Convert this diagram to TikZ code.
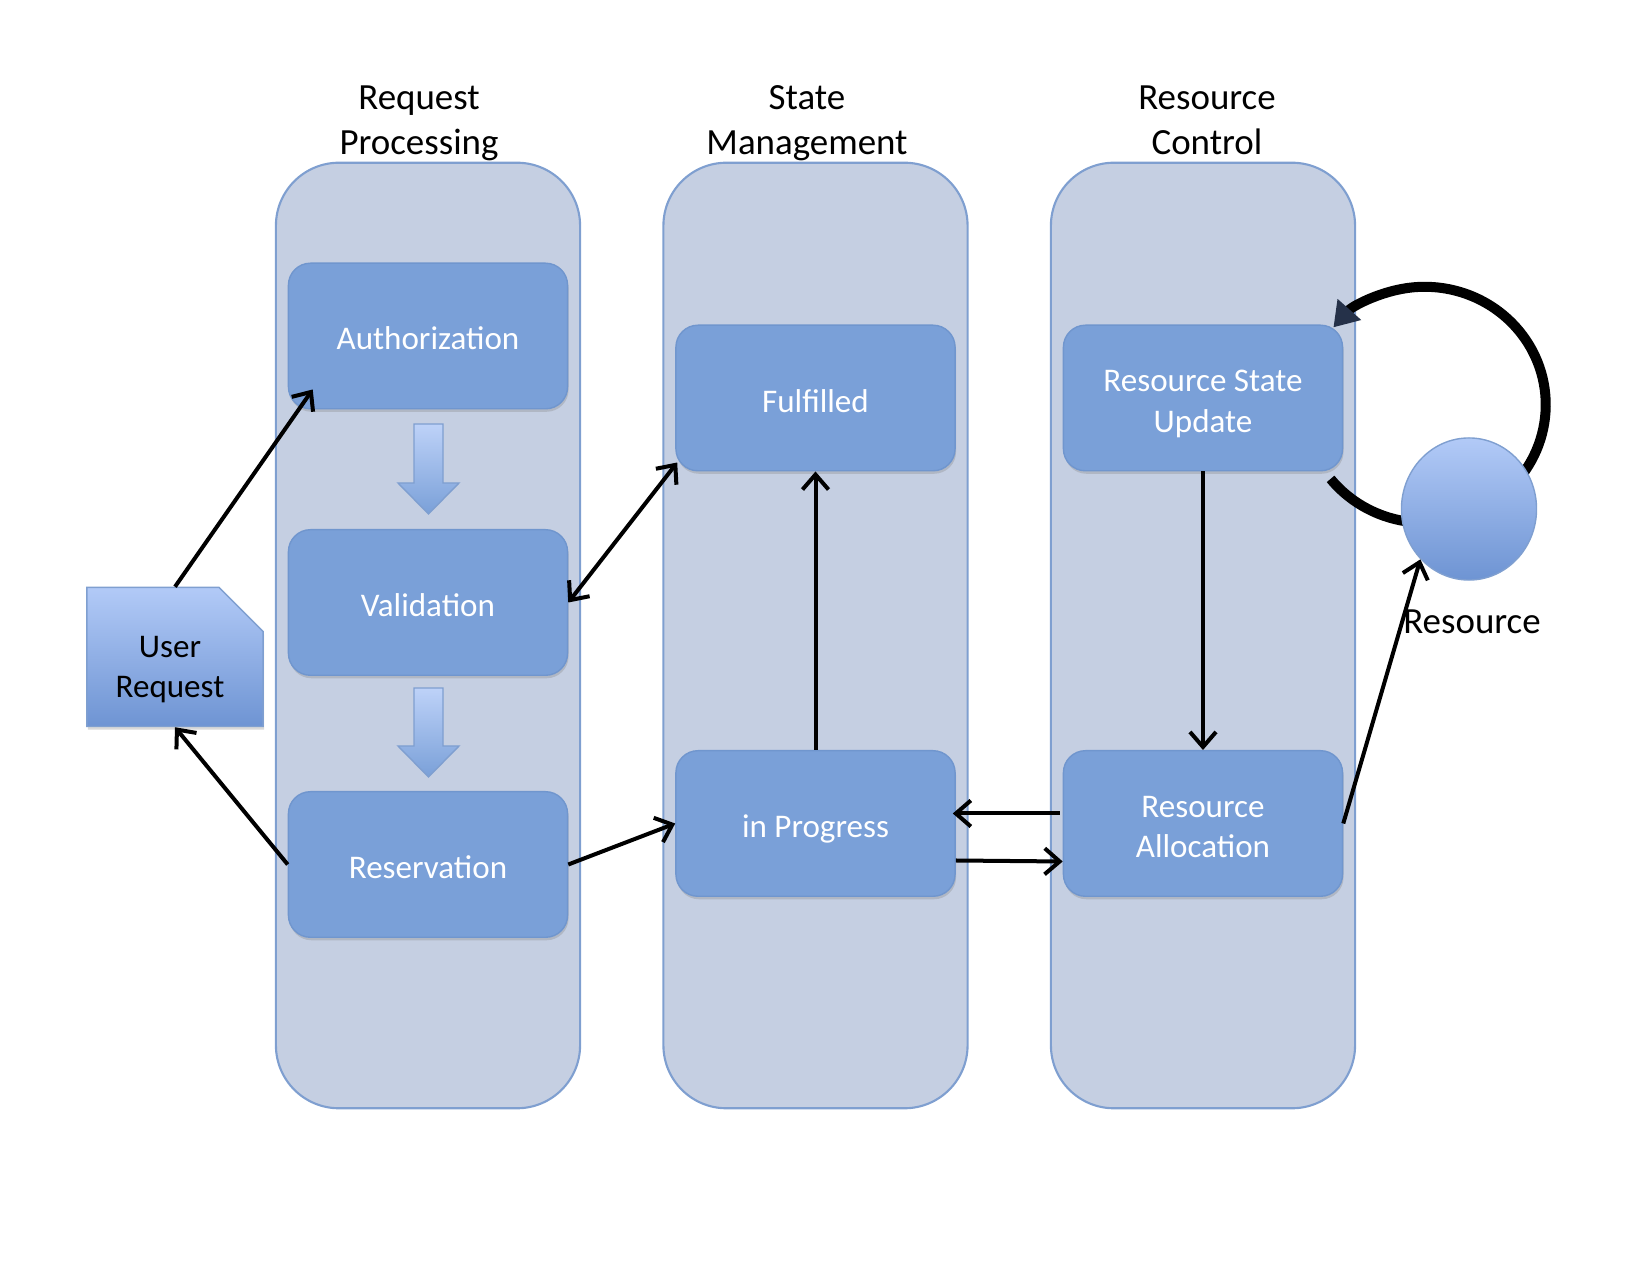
\documentclass[tikz,border=0pt]{standalone}
\usepackage{fontspec}
\setmainfont{Carlito}
\usetikzlibrary{calc}
\usetikzlibrary{arrows.meta}
\usetikzlibrary{shapes.geometric}
\usetikzlibrary{shapes.misc}
\usetikzlibrary{shadows}
\definecolor{lanefill}{RGB}{197,207,226}
\definecolor{laneline}{RGB}{127,159,208}
\definecolor{boxfill}{RGB}{122,160,216}
\definecolor{boxline}{RGB}{112,150,206}
\definecolor{lighttop}{RGB}{178,202,247}
\definecolor{darkbottom}{RGB}{110,148,211}
\definecolor{loopnavy}{RGB}{37,49,73}
\tikzset{
 lane/.style={draw=laneline, fill=lanefill, line width=0.6pt, rounded corners=0.63cm, minimum width=3.04cm, minimum height=9.45cm},
 lanetitle/.style={align=center, text depth=0pt, font=\fontsize{10.5}{12.8}\selectfont},
 stage/.style={draw=boxline, fill=boxfill, rounded corners=0.22cm, minimum width=2.79cm, minimum height=1.455cm, text=white, align=center, text height=0.30cm, text depth=0.02cm, font=\fontsize{9.4}{11.4}\selectfont, drop shadow={shadow xshift=0.01cm, shadow yshift=-0.03cm, opacity=0.3}},
 twoline/.style={text height=0.70cm},
 conn/.style={line width=0.04cm, >={Straight Barb[length=0.15cm, width=0.26cm]}, ->},
}

\begin{document}
\begin{tikzpicture}[x=0.01cm, y=0.01cm]
\useasboundingbox (0,0) rectangle (1650,1275);
% lanes
\node[lane] (lreq) at (428,639.5) {};
\node[lane] (lstate) at (815.5,639.5) {};
\node[lane] (lres) at (1203,639.5) {};
\node[lanetitle] (treq) at (419,1155) {Request\\Processing};
\node[lanetitle] (tstate) at (807,1155) {State\\Management};
\node[lanetitle] (tres) at (1207,1155) {Resource\\Control};

% stages
\node[stage] (auth) at (428,939) {Authorization};
\node[stage] (valid) at (428,672.5) {Validation};
\node[stage] (reserv) at (428,410.5) {Reservation};
\node[stage] (fulf) at (815.5,877) {Fulfilled};
\node[stage] (inprog) at (815.5,451.5) {in Progress};
\node[stage, twoline] (rsu) at (1203,877) {Resource State\\Update};
\node[stage, twoline] (ralloc) at (1203,451.5) {Resource\\Allocation};

\foreach \ytop/\ytip in {851/761, 587/498} {
 \draw[laneline, top color=lighttop!85!white, bottom color=boxfill] (414,\ytop) -- (443,\ytop) -- (443,\ytip+31) -- (459,\ytip+31) -- (428.5,\ytip) -- (398,\ytip+31) -- (414,\ytip+31) -- cycle;
}

\node[chamfered rectangle, chamfered rectangle corners=north east, chamfered rectangle xsep=0.22cm, chamfered rectangle ysep=0.22cm, draw=laneline, top color=lighttop, bottom color=darkbottom, minimum width=1.76cm, minimum height=1.38cm, inner sep=0pt, align=center, text height=0.88cm, text depth=0.07cm, font=\fontsize{9.4}{11.4}\selectfont, drop shadow={shadow xshift=0.01cm, shadow yshift=-0.03cm, opacity=0.3}] (ureq) at (175,618) {User\kern0.1cm\\Request\kern0.1cm};

% connectors
\draw[conn] (ureq.north) -- ($(auth.south west)+(25,20)$);
\draw[conn] (reserv.west) -- (ureq.south);
\draw[conn, <->] (valid.east) -- ($(fulf.south west)+(2,9)$);
\draw[conn] (reserv.east) -- (inprog.west);
\draw[conn] (inprog.north) -- (fulf.south);
\draw[conn] (rsu.south) -- (ralloc.north);
\draw[conn] ($(ralloc.west)+(-3,10)$) -- ($(inprog.east)+(-3,10)$);
\draw[conn] ($(inprog.east)+(0,-37)$) -- ($(ralloc.west)+(0,-38)$);

% resource loop
\draw[line width=0.1cm, -{Triangle[length=0.24cm, width=0.3cm, color=loopnavy]}] ($(rsu.south east)+(-12.7,-7.4)$) arc[start angle=218.9, end angle=499, x radius=121, y radius=118];
\node[ellipse, draw=laneline, top color=lighttop, bottom color=darkbottom, minimum width=1.35cm, minimum height=1.42cm, inner sep=0pt] (resc) at (1469,766) {};
\node[font=\fontsize{10.5}{12.8}\selectfont] (resl) at (1472,653) {Resource};
\draw[conn] (ralloc.east) -- (resc.226);
\end{tikzpicture}
\end{document}
